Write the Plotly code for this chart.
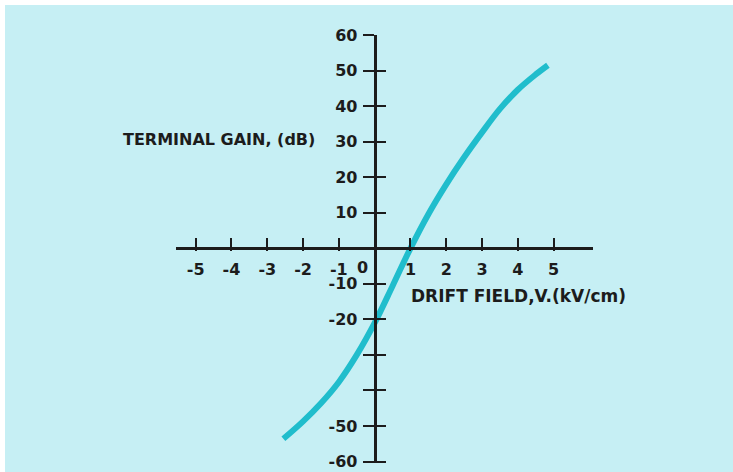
import plotly.graph_objects as go

# Terminal gain versus drift field
drift_field = [-2.55, -2.0, -1.5, -1.0, -0.5, 0.0, 0.5, 1.0, 1.5, 2.0, 2.5, 3.0, 3.5, 4.0, 4.5, 4.84]
terminal_gain = [-53.6, -48.7, -43.6, -37.6, -30.0, -21.0, -10.6, 0.0, 9.6, 18.0, 25.6, 32.6, 39.2, 44.6, 48.9, 51.5]

x_ticks = [-5, -4, -3, -2, -1, 1, 2, 3, 4, 5]
x_tick_text = ["-5", "-4", "-3", "-2", "-1", "1", "2", "3", "4", "5"]
y_ticks = [60, 50, 40, 30, 20, 10, -10, -20, -30, -40, -50, -60]
y_tick_text = ["60", "50", "40", "30", "20", "10", "-10", "-20", "", "", "-50", "-60"]

X_RANGE = [-5.55, 6.1]
Y_RANGE = [-60.4, 60.0]

BG = "#C6EFF4"
INK = "#1c1c1c"
CURVE = "#20BDCC"
FONT = "DejaVu Sans"

# paper fractions where the axes cross at the origin
x0_frac = (0 - X_RANGE[0]) / (X_RANGE[1] - X_RANGE[0])
y0_frac = (0 - Y_RANGE[0]) / (Y_RANGE[1] - Y_RANGE[0])

fig = go.Figure()
fig.add_trace(go.Scatter(
    x=drift_field, y=terminal_gain, mode="lines",
    line=dict(color=CURVE, width=6, shape="spline", smoothing=1.0),
    hoverinfo="skip", showlegend=False,
))
# helper trace so the inner tick axes get drawn
fig.add_trace(go.Scatter(
    x=drift_field, y=terminal_gain, xaxis="x2", yaxis="y2", mode="lines",
    line=dict(width=0), opacity=0, hoverinfo="skip", showlegend=False,
))

tick_font = dict(family=FONT, size=16, color=INK, weight="bold")

fig.update_layout(
    width=733, height=472,
    margin=dict(l=176, r=140, t=35, b=9),
    paper_bgcolor=BG, plot_bgcolor=BG,
    font=dict(family=FONT, color=INK),
    xaxis=dict(
        range=X_RANGE, anchor="free", position=y0_frac, automargin=False,
        showgrid=False, zeroline=False,
        showline=True, linecolor=INK, linewidth=3,
        tickmode="array", tickvals=x_ticks, ticktext=x_tick_text,
        ticks="inside", ticklen=9, tickwidth=2, tickcolor=INK,
        tickfont=tick_font, ticklabelstandoff=6,
    ),
    yaxis=dict(
        range=Y_RANGE, anchor="free", position=x0_frac, automargin=False,
        showgrid=False, zeroline=False,
        showline=True, linecolor=INK, linewidth=3,
        tickmode="array", tickvals=y_ticks, ticktext=y_tick_text,
        ticks="outside", ticklen=11, tickwidth=2, tickcolor=INK,
        tickfont=tick_font, ticklabelstandoff=2,
    ),
    xaxis2=dict(
        range=X_RANGE, overlaying="x", anchor="free", position=y0_frac, automargin=False,
        showgrid=False, zeroline=False, showline=False,
        tickmode="array", tickvals=x_ticks, showticklabels=False,
        ticks="outside", ticklen=2, tickwidth=2, tickcolor=INK,
    ),
    yaxis2=dict(
        range=Y_RANGE, overlaying="y", anchor="free", position=x0_frac, automargin=False,
        showgrid=False, zeroline=False, showline=False,
        tickmode="array", tickvals=y_ticks, showticklabels=False,
        ticks="inside", ticklen=10, tickwidth=2, tickcolor=INK,
    ),
    shapes=[
        # white page margin along the top and left edges
        dict(type="rect", xref="paper", yref="paper", x0=-1, x1=2,
             y0=(463 - 5) / 428, y1=2, fillcolor="white", line_width=0, layer="below"),
        dict(type="rect", xref="paper", yref="paper", x0=-1, x1=(5 - 176) / 417,
             y0=-1, y1=2, fillcolor="white", line_width=0, layer="below"),
    ],
    annotations=[
        dict(x=0, y=0, xref="x", yref="y", text="0", showarrow=False,
             xanchor="center", yanchor="top", xshift=-12, yshift=-8,
             font=tick_font),
        dict(x=-1.62, y=30.5, xref="x", yref="y", text="TERMINAL GAIN, (dB)",
             showarrow=False, xanchor="right", yanchor="middle",
             font=dict(family=FONT, size=16, color=INK, weight="bold")),
        dict(x=0.97, y=-13.4, xref="x", yref="y", text="DRIFT FIELD,V.(kV/cm)",
             showarrow=False, xanchor="left", yanchor="middle",
             font=dict(family=FONT, size=17, color=INK, weight="bold")),
    ],
)

fig.write_html("out.html")
